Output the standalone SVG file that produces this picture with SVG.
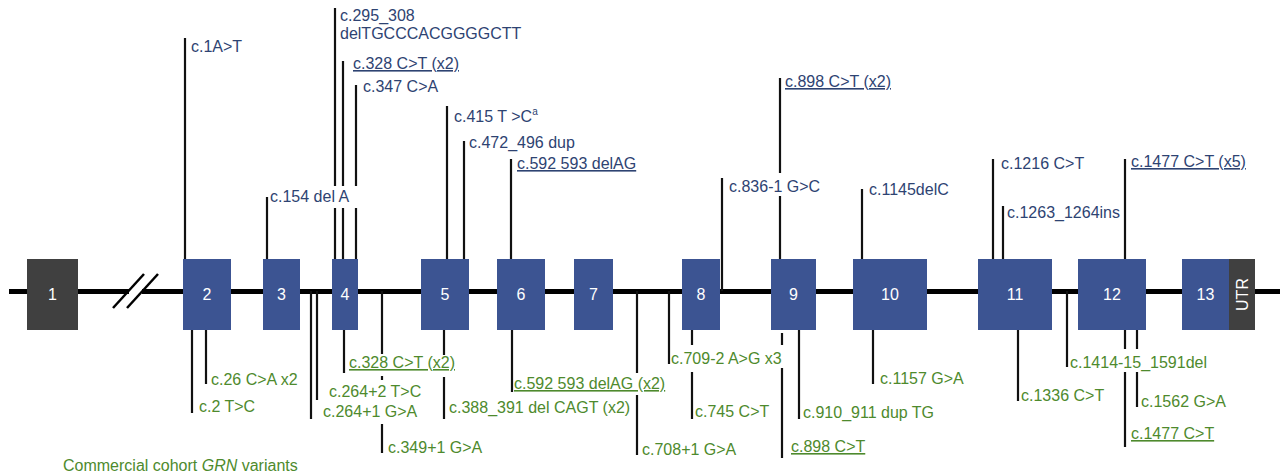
<svg xmlns="http://www.w3.org/2000/svg" width="1280" height="473" viewBox="0 0 1280 473">
<style>
.ex{fill:#3c5492}
.dk{fill:#404040}
.bn{fill:#fff;font-family:"Liberation Sans",Arial,sans-serif;font-size:16px;text-anchor:middle}
.t{font-family:"Liberation Sans",Arial,sans-serif;font-size:16px}
.top{fill:#2e4372}
.bot{fill:#4e8a2d}
.u{text-decoration:underline}
.c line{stroke:#111;stroke-width:2.2}
</style>
<rect width="1280" height="473" fill="#fff"/>
<g id="backbone">
<line x1="9" y1="291.5" x2="129" y2="291.5" stroke="#000" stroke-width="5"/>
<line x1="142" y1="291.5" x2="1280" y2="291.5" stroke="#000" stroke-width="5"/>
<line x1="113" y1="308" x2="144" y2="274" stroke="#000" stroke-width="2.5"/>
<line x1="127" y1="308" x2="158" y2="274" stroke="#000" stroke-width="2.5"/>
</g>
<g id="connectors" class="c">
<!-- top -->
<line x1="185" y1="38" x2="185" y2="259"/>
<line x1="267" y1="197" x2="267" y2="259"/>
<line x1="335" y1="8" x2="335" y2="186"/><line x1="335" y1="208" x2="335" y2="259"/>
<line x1="343" y1="61" x2="343" y2="186"/><line x1="343" y1="208" x2="343" y2="259"/>
<line x1="356" y1="85" x2="356" y2="186"/><line x1="356" y1="208" x2="356" y2="259"/>
<line x1="447" y1="106" x2="447" y2="259"/>
<line x1="464" y1="141" x2="464" y2="259"/>
<line x1="511" y1="159" x2="511" y2="259"/>
<line x1="722" y1="178" x2="722" y2="291"/>
<line x1="780" y1="78" x2="780" y2="173"/><line x1="780" y1="196" x2="780" y2="259"/>
<line x1="862" y1="189" x2="862" y2="259"/>
<line x1="993" y1="159" x2="993" y2="259"/>
<line x1="1003" y1="206" x2="1003" y2="259"/>
<line x1="1125" y1="159" x2="1125" y2="259"/>
<!-- bottom -->
<line x1="192" y1="330" x2="192" y2="413"/>
<line x1="206" y1="330" x2="206" y2="384"/>
<line x1="311" y1="291" x2="311" y2="419"/>
<line x1="317" y1="291" x2="317" y2="400"/>
<line x1="344" y1="330" x2="344" y2="373"/>
<line x1="382" y1="291" x2="382" y2="354"/><line x1="382" y1="376" x2="382" y2="380"/><line x1="382" y1="424" x2="382" y2="453"/>
<line x1="444" y1="330" x2="444" y2="355"/><line x1="444" y1="377" x2="444" y2="419"/>
<line x1="512" y1="330" x2="512" y2="392"/>
<line x1="637" y1="291" x2="637" y2="373"/><line x1="637" y1="395" x2="637" y2="455"/>
<line x1="669" y1="291" x2="669" y2="364"/>
<line x1="692" y1="330" x2="692" y2="345"/><line x1="692" y1="372" x2="692" y2="419"/>
<line x1="782" y1="333" x2="782" y2="345"/><line x1="782" y1="368" x2="782" y2="458"/>
<line x1="799" y1="330" x2="799" y2="419"/>
<line x1="873" y1="330" x2="873" y2="384"/>
<line x1="1018" y1="330" x2="1018" y2="401"/>
<line x1="1067" y1="291" x2="1067" y2="367"/>
<line x1="1125" y1="330" x2="1125" y2="349"/><line x1="1125" y1="372" x2="1125" y2="447"/>
<line x1="1137" y1="330" x2="1137" y2="349"/><line x1="1137" y1="372" x2="1137" y2="407"/>
</g>
<g id="exon1"><rect class="dk" x="27" y="259" width="51" height="71"/><text class="bn" x="52.5" y="300">1</text></g>
<g id="exon2"><rect class="ex" x="183" y="259" width="48" height="71"/><text class="bn" x="207" y="300">2</text></g>
<g id="exon3"><rect class="ex" x="263" y="259" width="37" height="71"/><text class="bn" x="281.5" y="300">3</text></g>
<g id="exon4"><rect class="ex" x="332" y="259" width="26" height="71"/><text class="bn" x="345" y="300">4</text></g>
<g id="exon5"><rect class="ex" x="421" y="259" width="48" height="71"/><text class="bn" x="445" y="300">5</text></g>
<g id="exon6"><rect class="ex" x="497" y="259" width="48" height="71"/><text class="bn" x="521" y="300">6</text></g>
<g id="exon7"><rect class="ex" x="574" y="259" width="39" height="71"/><text class="bn" x="593.5" y="300">7</text></g>
<g id="exon8"><rect class="ex" x="682" y="259" width="38" height="71"/><text class="bn" x="701" y="300">8</text></g>
<g id="exon9"><rect class="ex" x="771" y="259" width="45" height="71"/><text class="bn" x="793.5" y="300">9</text></g>
<g id="exon10"><rect class="ex" x="853" y="259" width="74" height="71"/><text class="bn" x="890" y="300">10</text></g>
<g id="exon11"><rect class="ex" x="978" y="259" width="74" height="71"/><text class="bn" x="1015" y="300">11</text></g>
<g id="exon12"><rect class="ex" x="1078" y="259" width="68" height="71"/><text class="bn" x="1112" y="300">12</text></g>
<g id="exon13"><rect class="ex" x="1182" y="259" width="47" height="71"/><text class="bn" x="1205.5" y="300">13</text></g>
<g id="utr"><rect class="dk" x="1229" y="259" width="26" height="71"/><text class="bn" transform="translate(1247.5,294.5) rotate(-90)">UTR</text></g>
<g id="top-labels" class="t top">
<text x="191" y="52">c.1A&gt;T</text>
<text x="270" y="202">c.154 del A</text>
<text x="340" y="21">c.295_308</text>
<text x="340" y="39">delTGCCCACGGGGCTT</text>
<text class="u" x="353" y="69">c.328 C&gt;T (x2)</text>
<text x="363" y="92">c.347 C&gt;A</text>
<text x="454" y="122">c.415 T &gt;C<tspan font-size="10" dy="-7">a</tspan></text>
<text x="469" y="148">c.472_496 dup</text>
<text class="u" x="517" y="169">c.592 593 delAG</text>
<text x="729" y="192">c.836-1 G&gt;C</text>
<text class="u" x="785" y="87">c.898 C&gt;T (x2)</text>
<text x="869" y="195">c.1145delC</text>
<text x="1001" y="169">c.1216 C&gt;T</text>
<text x="1007" y="218">c.1263_1264ins</text>
<text class="u" x="1131" y="167">c.1477 C&gt;T (x5)</text>
</g>
<g id="bottom-labels" class="t bot">
<text x="199" y="412">c.2 T&gt;C</text>
<text x="211" y="385">c.26 C&gt;A x2</text>
<text x="323" y="417">c.264+1 G&gt;A</text>
<text x="329" y="397">c.264+2 T&gt;C</text>
<text class="u" x="349" y="368">c.328 C&gt;T (x2)</text>
<text x="388" y="453">c.349+1 G&gt;A</text>
<text x="449" y="413">c.388_391 del CAGT (x2)</text>
<text class="u" x="514" y="389">c.592 593 delAG (x2)</text>
<text x="642" y="455">c.708+1 G&gt;A</text>
<text x="671" y="364">c.709-2 A&gt;G x3</text>
<text x="695" y="417">c.745 C&gt;T</text>
<text class="u" x="791" y="452">c.898 C&gt;T</text>
<text x="803" y="418">c.910_911 dup TG</text>
<text x="880" y="384">c.1157 G&gt;A</text>
<text x="1021" y="401">c.1336 C&gt;T</text>
<text x="1070" y="368">c.1414-15_1591del</text>
<text class="u" x="1131" y="439">c.1477 C&gt;T</text>
<text x="1141" y="407">c.1562 G&gt;A</text>
</g>
<g id="legend" class="t bot"><text x="63" y="471">Commercial cohort <tspan font-style="italic">GRN</tspan> variants</text></g>
</svg>
